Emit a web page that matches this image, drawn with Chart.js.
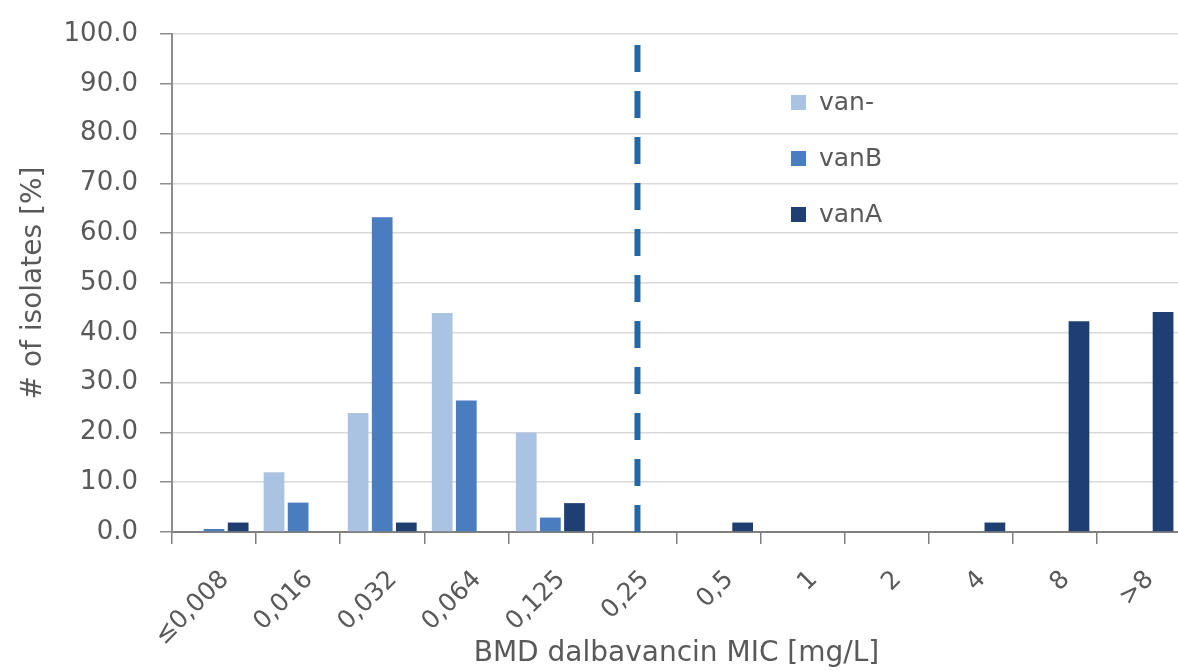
<!DOCTYPE html>
<html>
<head>
<meta charset="utf-8">
<script src="https://cdn.jsdelivr.net/npm/chart.js@4/dist/chart.umd.min.js"></script>
<style>
  html, body { margin: 0; padding: 0; background: #ffffff; overflow: hidden; }
  canvas { display: block; }
</style>
</head>
<body>
<canvas id="c" width="1181" height="671"></canvas>
<script>
const categories = ['≤0,008', '0,016', '0,032', '0,064', '0,125', '0,25', '0,5', '1', '2', '4', '8', '>8'];
const vanNeg = [0, 12.0, 23.9, 44.0, 20.0, 0, 0, 0, 0, 0, 0, 0];
const vanB   = [0.6, 5.9, 63.2, 26.4, 2.9, 0, 0, 0, 0, 0, 0, 0];
const vanA   = [1.9, 0, 1.9, 0, 5.8, 0, 1.9, 0, 0, 1.9, 42.3, 44.2];
const seriesLabels = ['van-', 'vanB', 'vanA'];
const breakpointCategory = '0,25';
const yTicks = [0, 10, 20, 30, 40, 50, 60, 70, 80, 90, 100];

const FONT = "'DejaVu Sans', sans-serif";
const TEXT = '#595959';

const breakpointPlugin = {
  id: 'breakpoint',
  afterDatasetsDraw(chart) {
    const x = chart.scales.x.getPixelForValue(categories.indexOf(breakpointCategory));
    const y0 = chart.scales.y.getPixelForValue(0);
    const y1 = chart.scales.y.getPixelForValue(100);
    const ctx = chart.ctx;
    ctx.save();
    ctx.strokeStyle = '#2268a8';
    ctx.lineWidth = 6;
    ctx.setLineDash([27, 19]);
    ctx.beginPath();
    ctx.moveTo(x + 3, y0);
    ctx.lineTo(x + 3, y1);
    ctx.stroke();
    ctx.restore();
  }
};

const legendPlugin = {
  id: 'innerLegend',
  afterDraw(chart) {
    const ctx = chart.ctx;
    ctx.save();
    ctx.font = "25px " + FONT;
    ctx.textBaseline = 'middle';
    ctx.textAlign = 'left';
    chart.data.datasets.forEach((ds, i) => {
      const cy = 103 + i * 56;
      ctx.fillStyle = ds.backgroundColor;
      ctx.fillRect(791, cy - 8, 15, 15);
      ctx.fillStyle = TEXT;
      ctx.fillText(ds.label, 819, cy);
    });
    ctx.restore();
  }
};

new Chart(document.getElementById('c'), {
  type: 'bar',
  data: {
    labels: categories,
    datasets: [
      { label: seriesLabels[0], data: vanNeg, backgroundColor: '#abc3e3' },
      { label: seriesLabels[1], data: vanB, backgroundColor: '#4a7dc0' },
      { label: seriesLabels[2], data: vanA, backgroundColor: '#1f3f72' }
    ]
  },
  options: {
    responsive: false,
    animation: false,
    devicePixelRatio: 1,
    categoryPercentage: 0.86,
    barPercentage: 0.86,
    layout: { padding: { top: 34, right: 0, left: 0, bottom: 0 } },
    plugins: {
      legend: { display: false },
      tooltip: { enabled: false }
    },
    scales: {
      x: {
        afterFit(scale) { scale.height = 139; scale.paddingRight = 0; scale.paddingLeft = 0; },
        grid: {
          drawOnChartArea: false,
          drawTicks: true,
          tickLength: 12,
          tickColor: '#7f7f7f',
          lineWidth: 1.5
        },
        border: { color: '#7f7f7f', width: 2 },
        ticks: {
          minRotation: 45,
          maxRotation: 45,
          autoSkip: false,
          color: TEXT,
          padding: 21,
          labelOffset: 11,
          font: { family: FONT, size: 25 }
        },
        title: {
          display: true,
          text: 'BMD dalbavancin MIC [mg/L]',
          color: TEXT,
          font: { family: FONT, size: 28 },
          padding: { top: 0, bottom: 0 }
        }
      },
      y: {
        min: 0,
        max: 100,
        afterFit(scale) { scale.width = 172; scale.paddingTop = 0; scale.paddingBottom = 0; },
        afterBuildTicks(scale) { scale.ticks = yTicks.map(v => ({ value: v })); },
        grid: {
          color: '#d9d9d9',
          lineWidth: 1.5,
          drawTicks: true,
          tickLength: 12,
          tickColor: '#8c8c8c'
        },
        border: { color: '#8c8c8c', width: 2 },
        ticks: {
          color: TEXT,
          padding: 22,
          font: { family: FONT, size: 26 },
          callback: (v) => Number(v).toFixed(1)
        },
        title: {
          display: true,
          text: '# of isolates [%]',
          color: TEXT,
          font: { family: FONT, size: 28 },
          padding: { top: 17, bottom: 0 }
        }
      }
    }
  },
  plugins: [breakpointPlugin, legendPlugin]
});
</script>
</body>
</html>
